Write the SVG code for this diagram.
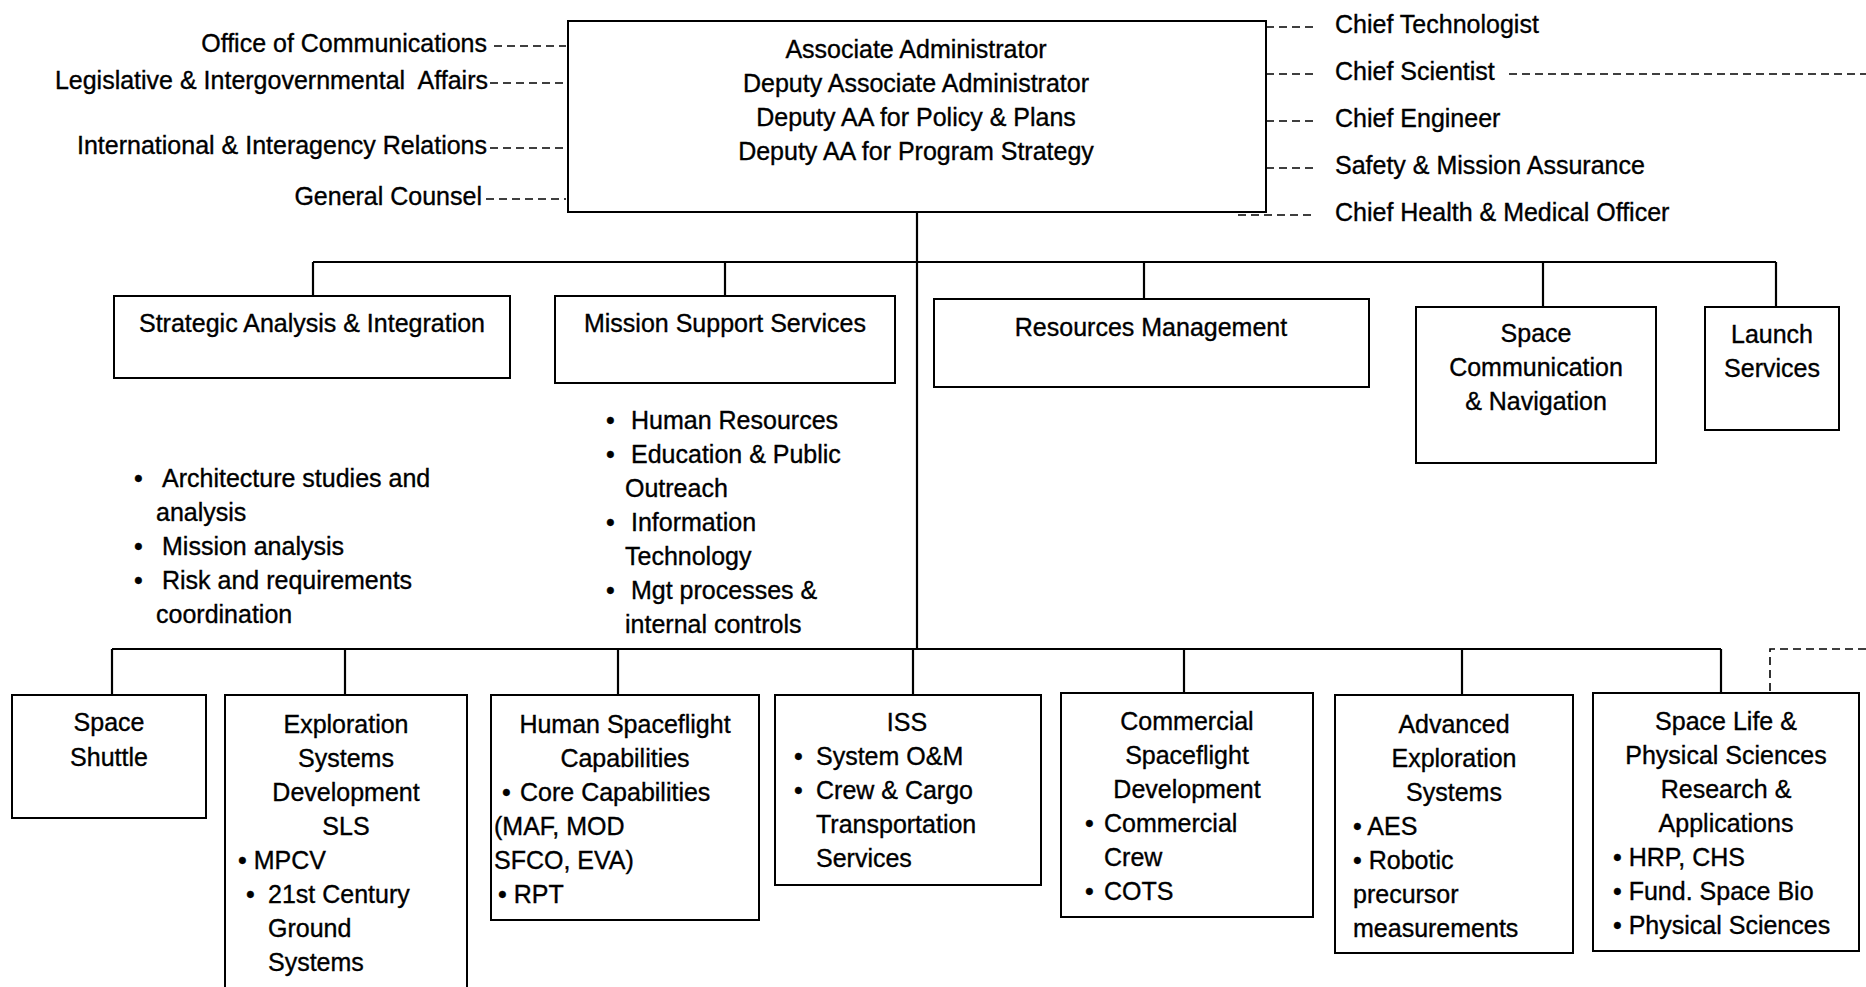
<svg xmlns="http://www.w3.org/2000/svg" width="1866" height="987" viewBox="0 0 1866 987">
<style>
text{font-family:"Liberation Sans",Arial,sans-serif;font-size:25px;fill:#000;stroke:#000;stroke-width:0.35}
.c{text-anchor:middle}
.e{text-anchor:end}
.box{fill:#fff;stroke:#000;stroke-width:2}
.ln{fill:none;stroke:#000;stroke-width:2.2}
.dl{fill:none;stroke:#000;stroke-width:1.6;stroke-dasharray:8 5}
</style>
<rect width="1866" height="987" fill="#fff"/>
<g id="connectors">
<line class="ln" x1="917" y1="212" x2="917" y2="649"/>
<line class="ln" x1="313" y1="262" x2="1776" y2="262"/>
<line class="ln" x1="313" y1="262" x2="313" y2="296"/>
<line class="ln" x1="725" y1="262" x2="725" y2="296"/>
<line class="ln" x1="1144" y1="262" x2="1144" y2="299"/>
<line class="ln" x1="1543" y1="262" x2="1543" y2="307"/>
<line class="ln" x1="1776" y1="262" x2="1776" y2="307"/>
<line class="ln" x1="112" y1="649" x2="1721" y2="649"/>
<line class="ln" x1="112" y1="649" x2="112" y2="695"/>
<line class="ln" x1="345" y1="649" x2="345" y2="695"/>
<line class="ln" x1="618" y1="649" x2="618" y2="695"/>
<line class="ln" x1="913" y1="649" x2="913" y2="695"/>
<line class="ln" x1="1184" y1="649" x2="1184" y2="693"/>
<line class="ln" x1="1462" y1="649" x2="1462" y2="695"/>
<line class="ln" x1="1721" y1="649" x2="1721" y2="693"/>
<path class="dl" d="M1866 649 H1770 V693"/>
<line class="dl" x1="494" y1="46" x2="566" y2="46"/>
<line class="dl" x1="490" y1="83" x2="566" y2="83"/>
<line class="dl" x1="490" y1="148" x2="566" y2="148"/>
<line class="dl" x1="486" y1="199" x2="566" y2="199"/>
<line class="dl" x1="1266" y1="27" x2="1315" y2="27"/>
<line class="dl" x1="1266" y1="74" x2="1315" y2="74"/>
<line class="dl" x1="1509" y1="74" x2="1866" y2="74"/>
<line class="dl" x1="1266" y1="121" x2="1315" y2="121"/>
<line class="dl" x1="1266" y1="168" x2="1315" y2="168"/>
<line class="dl" x1="1238" y1="215" x2="1315" y2="215"/>
</g>
<g id="associate-administrator">
<rect class="box" x="568" y="21" width="698" height="191"/>
<text class="c" x="916" y="58">Associate Administrator</text>
<text class="c" x="916" y="92">Deputy Associate Administrator</text>
<text class="c" x="916" y="126">Deputy AA for Policy &amp; Plans</text>
<text class="c" x="916" y="160">Deputy AA for Program Strategy</text>
</g>
<g id="left-staff">
<text class="e" x="487" y="52">Office of Communications</text>
<text class="e" x="488" y="89" xml:space="preserve">Legislative &amp; Intergovernmental  Affairs</text>
<text class="e" x="487" y="154">International &amp; Interagency Relations</text>
<text class="e" x="482" y="205">General Counsel</text>
</g>
<g id="right-staff">
<text x="1335" y="33">Chief Technologist</text>
<text x="1335" y="80">Chief Scientist</text>
<text x="1335" y="127">Chief Engineer</text>
<text x="1335" y="174">Safety &amp; Mission Assurance</text>
<text x="1335" y="221">Chief Health &amp; Medical Officer</text>
</g>
<g id="strategic">
<rect class="box" x="114" y="296" width="396" height="82"/>
<text class="c" x="312" y="332">Strategic Analysis &amp; Integration</text>
<text x="134" y="487">•</text><text x="162" y="487">Architecture studies and</text>
<text x="156" y="521">analysis</text>
<text x="134" y="555">•</text><text x="162" y="555">Mission analysis</text>
<text x="134" y="589">•</text><text x="162" y="589">Risk and requirements</text>
<text x="156" y="623">coordination</text>
</g>
<g id="mission-support">
<rect class="box" x="555" y="296" width="340" height="87"/>
<text class="c" x="725" y="332">Mission Support Services</text>
<text x="606" y="429">•</text><text x="631" y="429">Human Resources</text>
<text x="606" y="463">•</text><text x="631" y="463">Education &amp; Public</text>
<text x="625" y="497">Outreach</text>
<text x="606" y="531">•</text><text x="631" y="531">Information</text>
<text x="625" y="565">Technology</text>
<text x="606" y="599">•</text><text x="631" y="599">Mgt processes &amp;</text>
<text x="625" y="633">internal controls</text>
</g>
<g id="resources">
<rect class="box" x="934" y="299" width="435" height="88"/>
<text class="c" x="1151" y="336">Resources Management</text>
</g>
<g id="space-comm">
<rect class="box" x="1416" y="307" width="240" height="156"/>
<text class="c" x="1536" y="342">Space</text>
<text class="c" x="1536" y="376">Communication</text>
<text class="c" x="1536" y="410">&amp; Navigation</text>
</g>
<g id="launch">
<rect class="box" x="1705" y="307" width="134" height="123"/>
<text class="c" x="1772" y="343">Launch</text>
<text class="c" x="1772" y="377">Services</text>
</g>
<g id="space-shuttle">
<rect class="box" x="12" y="695" width="194" height="123"/>
<text class="c" x="109" y="731">Space</text>
<text class="c" x="109" y="766">Shuttle</text>
</g>
<g id="exploration">
<rect class="box" x="225" y="695" width="242" height="300"/>
<text class="c" x="346" y="733">Exploration</text>
<text class="c" x="346" y="767">Systems</text>
<text class="c" x="346" y="801">Development</text>
<text class="c" x="346" y="835">SLS</text>
<text x="238" y="869">• MPCV</text>
<text x="246" y="903">•</text><text x="268" y="903">21st Century</text>
<text x="268" y="937">Ground</text>
<text x="268" y="971">Systems</text>
</g>
<g id="human-spaceflight">
<rect class="box" x="491" y="695" width="268" height="225"/>
<text class="c" x="625" y="733">Human Spaceflight</text>
<text class="c" x="625" y="767">Capabilities</text>
<text x="502" y="801">•</text><text x="520" y="801">Core Capabilities</text>
<text x="494" y="835">(MAF, MOD</text>
<text x="494" y="869">SFCO, EVA)</text>
<text x="498" y="903">• RPT</text>
</g>
<g id="iss">
<rect class="box" x="775" y="695" width="266" height="190"/>
<text class="c" x="907" y="731">ISS</text>
<text x="794" y="765">•</text><text x="816" y="765">System O&amp;M</text>
<text x="794" y="799">•</text><text x="816" y="799">Crew &amp; Cargo</text>
<text x="816" y="833">Transportation</text>
<text x="816" y="867">Services</text>
</g>
<g id="commercial">
<rect class="box" x="1061" y="693" width="252" height="224"/>
<text class="c" x="1187" y="730">Commercial</text>
<text class="c" x="1187" y="764">Spaceflight</text>
<text class="c" x="1187" y="798">Development</text>
<text x="1085" y="832">•</text><text x="1104" y="832">Commercial</text>
<text x="1104" y="866">Crew</text>
<text x="1085" y="900">•</text><text x="1104" y="900">COTS</text>
</g>
<g id="advanced">
<rect class="box" x="1335" y="695" width="238" height="258"/>
<text class="c" x="1454" y="733">Advanced</text>
<text class="c" x="1454" y="767">Exploration</text>
<text class="c" x="1454" y="801">Systems</text>
<text x="1353" y="835">• AES</text>
<text x="1353" y="869">• Robotic</text>
<text x="1353" y="903">precursor</text>
<text x="1353" y="937">measurements</text>
</g>
<g id="space-life">
<rect class="box" x="1593" y="693" width="266" height="258"/>
<text class="c" x="1726" y="730">Space Life &amp;</text>
<text class="c" x="1726" y="764">Physical Sciences</text>
<text class="c" x="1726" y="798">Research &amp;</text>
<text class="c" x="1726" y="832">Applications</text>
<text x="1613" y="866">• HRP, CHS</text>
<text x="1613" y="900">• Fund. Space Bio</text>
<text x="1613" y="934">• Physical Sciences</text>
</g>
</svg>
